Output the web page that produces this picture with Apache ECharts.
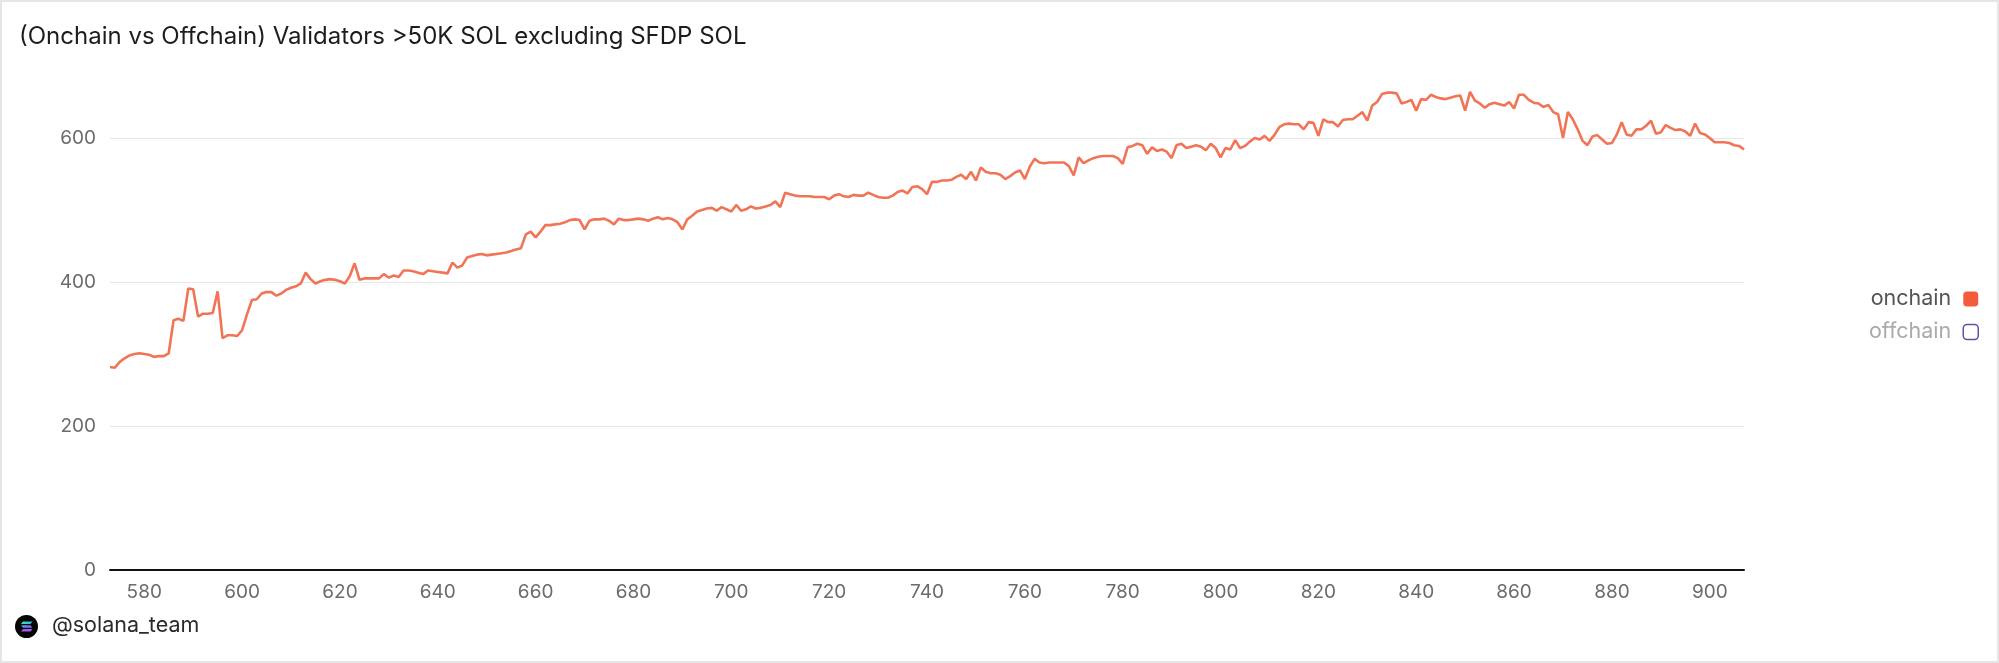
<!DOCTYPE html>
<html>
<head>
<meta charset="utf-8">
<script src="https://cdn.jsdelivr.net/npm/echarts@6/dist/echarts.min.js"></script>
<style>
  html, body { margin: 0; padding: 0; background: #fff; }
  #main { width: 1999px; height: 663px; }
</style>
</head>
<body>
<div id="main"></div>
<script>
var chartDom = document.getElementById('main');
var myChart = echarts.init(chartDom);

// epochs run one by one from firstEpoch
var firstEpoch = 573;
var onchain = [
  282, 281, 289, 294, 298, 300, 301, 300, 299, 296,
  297, 297, 301, 347, 349, 346, 391, 390, 352, 356,
  356, 357, 387, 322, 326, 326, 325, 333, 355, 375,
  376, 384, 386, 386, 381, 384, 389, 392, 394, 398,
  413, 404, 398, 401, 403, 404, 403, 401, 398, 408,
  426, 403, 405, 405, 405, 405, 411, 406, 409, 407,
  416, 416, 415, 413, 411, 416, 415, 414, 413, 412,
  427, 420, 423, 434, 436, 438, 439, 437, 438, 439,
  440, 441, 443, 445, 447, 466, 470, 462, 470, 479,
  479, 480, 481, 483, 486, 487, 486, 473, 485, 487,
  487, 488, 485, 480, 488, 486, 486, 487, 488, 487,
  485, 488, 490, 487, 489, 487, 483, 473, 487, 492,
  498, 500, 502, 503, 499, 504, 501, 498, 507, 499,
  501, 505, 502, 503, 505, 507, 512, 504, 524, 522,
  520, 519, 519, 519, 518, 518, 518, 515, 520, 522,
  519, 518, 521, 520, 520, 524, 521, 518, 517, 517,
  520, 525, 527, 523, 532, 533, 529, 522, 539, 539,
  541, 541, 542, 546, 549, 543, 553, 541, 559, 553,
  551, 551, 549, 543, 547, 552, 555, 543, 560, 571,
  566, 565, 566, 566, 566, 566, 561, 548, 573, 565,
  569, 572, 574, 575, 575, 575, 572, 564, 587, 589,
  592, 590, 578, 587, 582, 584, 581, 572, 590, 592,
  586, 588, 590, 588, 583, 592, 586, 573, 586, 584,
  597, 586, 589, 595, 600, 598, 603, 596, 604, 615,
  619, 620, 619, 619, 612, 622, 621, 603, 626, 622,
  622, 616, 625, 626, 626, 631, 636, 624, 645, 650,
  661, 663, 663, 662, 648, 650, 653, 638, 654, 653,
  660, 657, 655, 654, 656, 658, 659, 638, 664, 652,
  648, 642, 647, 649, 647, 645, 650, 641, 660, 660,
  653, 649, 648, 643, 646, 636, 633, 600, 636, 626,
  612, 596, 590, 602, 604, 598, 592, 593, 605, 622,
  605, 603, 612, 612, 617, 624, 606, 608, 618, 614,
  611, 612, 609, 603, 620, 607, 605, 600, 594, 594,
  594, 593, 590, 589, 584
];
var offchain = [];

var xTicks = [580, 600, 620, 640, 660, 680, 700, 720, 740, 760, 780, 800, 820, 840, 860, 880, 900];
var yTicks = [0, 200, 400, 600];

var onchainPoints = onchain.map(function (v, i) {
  return [firstEpoch + i, v];
});

var FONT = 'Inter, "Noto Sans", sans-serif';

myChart.setOption({
  backgroundColor: '#fff',
  animation: false,
  title: {
    text: '(Onchain vs Offchain) Validators >50K SOL excluding SFDP SOL',
    left: 14,
    top: 20,
    textStyle: {
      fontFamily: FONT,
      fontSize: 24,
      fontWeight: 'normal',
      color: '#1c1c1c'
    }
  },
  legend: {
    orient: 'vertical',
    right: 15,
    top: 283,
    align: 'right',
    icon: 'roundRect',
    itemWidth: 15,
    itemHeight: 15,
    itemGap: 11,
    textStyle: {
      fontFamily: FONT,
      fontSize: 21.5,
      color: '#555',
      padding: [0, 7, 0, 0]
    },
    data: [
      {
        name: 'onchain',
        itemStyle: { color: '#f25c3b' },
        textStyle: { color: '#555', padding: [0, 7, 0, 0] }
      },
      {
        name: 'offchain',
        itemStyle: { color: '#fff', borderColor: '#5b55a6', borderWidth: 1.5 },
        textStyle: { color: '#aaa', padding: [0, 7, 0, 0] }
      }
    ]
  },
  grid: {
    left: 110,
    right: 255,
    top: 66,
    bottom: 93
  },
  xAxis: {
    type: 'value',
    min: 573,
    max: 907,
    axisLine: { show: true, lineStyle: { color: '#111', width: 2 } },
    axisTick: { show: false, customValues: xTicks },
    splitLine: { show: false },
    axisLabel: {
      customValues: xTicks,
      margin: 13,
      fontFamily: FONT,
      fontSize: 19,
      color: '#6b6b6b'
    }
  },
  yAxis: {
    type: 'value',
    min: 0,
    max: 700,
    axisLine: { show: false },
    axisTick: { show: false, customValues: yTicks },
    splitLine: { show: true, lineStyle: { color: '#e8e8e8', width: 1 } },
    axisLabel: {
      customValues: yTicks,
      margin: 14,
      fontFamily: FONT,
      fontSize: 19,
      color: '#6b6b6b'
    }
  },
  series: [
    {
      name: 'onchain',
      type: 'line',
      data: onchainPoints,
      showSymbol: false,
      itemStyle: { color: '#f25c3b' },
      lineStyle: { color: '#f27457', width: 2.6 },
      z: 3
    },
    {
      name: 'offchain',
      type: 'line',
      data: offchain,
      showSymbol: false,
      itemStyle: { color: '#5b55a6' },
      lineStyle: { color: '#5b55a6', width: 2.5 }
    }
  ],
  graphic: [
    {
      type: 'rect',
      silent: true,
      z: -10,
      shape: { x: 0, y: 0, width: 1999, height: 663 },
      style: { fill: 'none', stroke: '#e6e6e6', lineWidth: 4 }
    },
    {
      type: 'group',
      left: 15,
      top: 615,
      children: [
        {
          type: 'circle',
          shape: { cx: 11.5, cy: 11.5, r: 11.5 },
          style: { fill: '#050505' }
        },
        {
          type: 'polygon',
          shape: { points: [[8, 6.5], [17.5, 6.5], [15.5, 9], [6, 9]] },
          style: {
            fill: new echarts.graphic.LinearGradient(0, 0, 1, 0, [
              { offset: 0, color: '#19fb9b' },
              { offset: 1, color: '#3fa9f5' }
            ])
          }
        },
        {
          type: 'polygon',
          shape: { points: [[6, 10.3], [15.5, 10.3], [17.5, 12.8], [8, 12.8]] },
          style: {
            fill: new echarts.graphic.LinearGradient(0, 0, 1, 0, [
              { offset: 0, color: '#3fa9f5' },
              { offset: 1, color: '#8a5cf6' }
            ])
          }
        },
        {
          type: 'polygon',
          shape: { points: [[8, 14.1], [17.5, 14.1], [15.5, 16.6], [6, 16.6]] },
          style: {
            fill: new echarts.graphic.LinearGradient(0, 0, 1, 0, [
              { offset: 0, color: '#8a5cf6' },
              { offset: 1, color: '#c84ee8' }
            ])
          }
        }
      ]
    },
    {
      type: 'text',
      left: 52,
      top: 615,
      style: {
        text: '@solana_team',
        fontFamily: FONT,
        fontSize: 21.5,
        fill: '#2a2a2a'
      }
    }
  ]
});
</script>
</body>
</html>
